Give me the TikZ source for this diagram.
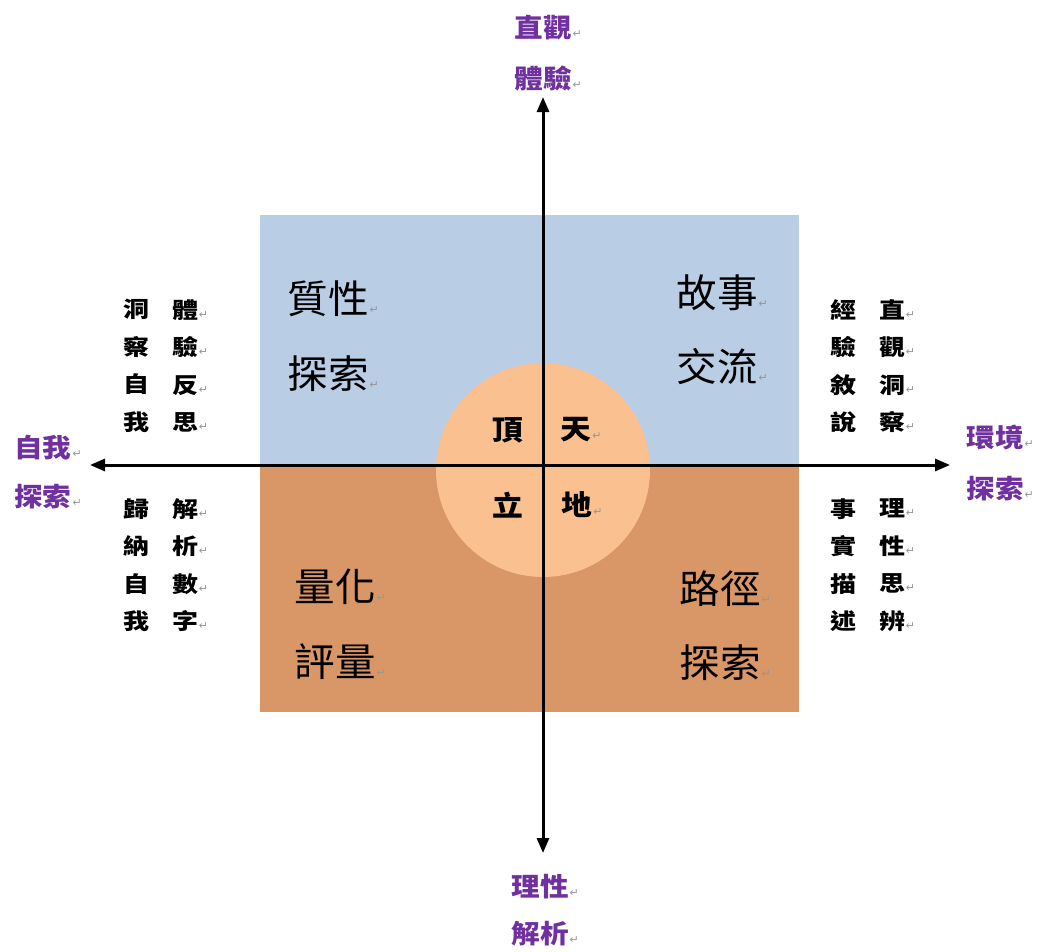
\documentclass[tikz,border=0pt]{standalone}
\usepackage{fontspec}
\setmainfont{Noto Sans CJK TC}
\newfontfamily\symf{DejaVu Sans}
\newfontfamily\wideA[FakeStretch=1.18]{Noto Sans CJK TC}
\newfontfamily\wideB[FakeStretch=1.1]{Noto Sans CJK TC}
\newfontfamily\wideC[FakeStretch=1.04]{Noto Sans CJK TC}
\usetikzlibrary{arrows.meta}
\definecolor{qblue}{RGB}{185,205,229}
\definecolor{qorange}{RGB}{217,150,102}
\definecolor{qcircle}{RGB}{250,192,144}
\definecolor{qpurple}{RGB}{112,48,160}
\definecolor{retgray}{RGB}{150,150,150}
\newcommand\retmark{\rlap{\kern1pt\textcolor{retgray}{\symf\mdseries\fontsize{11}{11}\selectfont ↵}}}
\tikzset{
  axis/.style={line width=3pt, {Triangle[length=15pt,width=12pt]}-{Triangle[length=15pt,width=12pt]}},
  quad/.style={inner sep=0pt, font=\wideC\fontsize{39}{39}\selectfont},
  mid/.style={inner sep=0pt, font=\wideB\bfseries\fontsize{28}{28}\selectfont},
  dirlab/.style={inner sep=0pt, text=qpurple, font=\wideB\bfseries\fontsize{26}{26}\selectfont},
  sidecol/.style={inner sep=0pt, align=center, font=\wideA\bfseries\fontsize{22}{37.5}\selectfont}
}
\begin{document}
\begin{tikzpicture}[x=1pt,y=-1pt]
\useasboundingbox (0,0) rectangle (1042,951);
% quadrant backgrounds
\fill[qblue] (260,215) rectangle (799,465);
\fill[qorange] (260,465) rectangle (799,712);
\fill[qcircle] (543,470) circle (107);
% axes
\coordinate (top) at (543,97);
\coordinate (bot) at (543,853);
\coordinate (lft) at (90,465);
\coordinate (rgt) at (950,465);
\draw[axis] (bot) -- (top);
\draw[axis] (lft) -- (rgt);
% direction labels
\node[dirlab] (t1) at (543,28) {直觀\retmark};
\node[dirlab] (t2) at (543,78) {體驗\retmark};
\node[dirlab] (b1) at (540,887) {理性\retmark};
\node[dirlab] (b2) at (540,934) {解析\retmark};
\node[dirlab] (l1) at (43,448) {自我\retmark};
\node[dirlab] (l2) at (43,497) {探索\retmark};
\node[dirlab] (r1) at (995,438) {環境\retmark};
\node[dirlab] (r2) at (995,489) {探索\retmark};
% quadrant labels
\node[quad] (q1a) at (328,299) {質性\retmark};
\node[quad] (q1b) at (328,374) {探索\retmark};
\node[quad] (q2a) at (717,293) {故事\retmark};
\node[quad] (q2b) at (717,367) {交流\retmark};
\node[quad] (q3a) at (335,587) {量化\retmark};
\node[quad] (q3b) at (335,662) {評量\retmark};
\node[quad] (q4a) at (720,589) {路徑\retmark};
\node[quad] (q4b) at (720,663) {探索\retmark};
% centre
\node[mid] (c1) at (508,430) {頂};
\node[mid] (c2) at (576,430) {天\retmark};
\node[mid] (c3) at (508,505) {立};
\node[mid] (c4) at (577,505) {地\retmark};
% side columns
\node[sidecol] (ltA) at (136,366) {洞\\察\\自\\我};
\node[sidecol] (ltB) at (185,366) {體\retmark\\驗\retmark\\反\retmark\\思\retmark};
\node[sidecol] (lbA) at (136,565) {歸\\納\\自\\我};
\node[sidecol] (lbB) at (185,565) {解\retmark\\析\retmark\\數\retmark\\字\retmark};
\node[sidecol] (rtA) at (843,366) {經\\驗\\敘\\說};
\node[sidecol] (rtB) at (892,366) {直\retmark\\觀\retmark\\洞\retmark\\察\retmark};
\node[sidecol] (rbA) at (843,565) {事\\實\\描\\述};
\node[sidecol] (rbB) at (892,565) {理\retmark\\性\retmark\\思\retmark\\辨\retmark};
\end{tikzpicture}
\end{document}
